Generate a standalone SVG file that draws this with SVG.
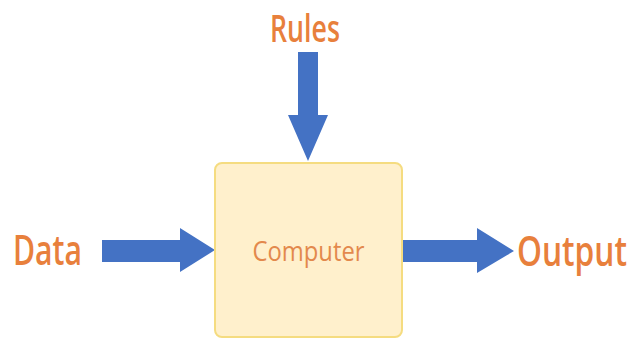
<svg xmlns="http://www.w3.org/2000/svg" width="635" height="340" viewBox="0 0 635 340">
  <style>
    .lbl { font-family: "Open Sans", "Liberation Sans", sans-serif; font-weight: 600; fill: #E8803C; }
    .arrow { fill: #4472C4; }
    .box { fill: #FFF0CC; stroke: #F5DC80; stroke-width: 2; }
  </style>
  <rect width="635" height="340" fill="#FFFFFF"/>

  <!-- block arrows -->
  <g id="connectors">
    <!-- Rules -> Computer -->
    <polygon class="arrow" points="298,52 318,52 318,115 328,115 308,161 288,115 298,115"/>
    <!-- Data -> Computer -->
    <polygon class="arrow" points="102,240 180,240 180,228 215,250 180,272 180,262 102,262"/>
    <!-- Computer -> Output -->
    <polygon class="arrow" points="403,240 477,240 477,228 514,251 477,273 477,262 403,262"/>
  </g>

  <g id="computer">
    <rect class="box" x="215" y="163" width="187" height="174" rx="7"/>
    <text class="lbl" x="308.5" y="261" text-anchor="middle" textLength="112" lengthAdjust="spacingAndGlyphs" style="fill:#E3894C;font-weight:400;font-size:28px">Computer</text>
  </g>

  <g id="rules">
    <text class="lbl" x="270" y="42" textLength="70" lengthAdjust="spacingAndGlyphs" style="font-size:38px">Rules</text>
  </g>

  <g id="data">
    <text class="lbl" x="13" y="265" textLength="69" lengthAdjust="spacingAndGlyphs" style="font-size:42px">Data</text>
  </g>

  <!-- tall, narrow label: smaller size stretched vertically -->
  <g id="output" transform="translate(517,266) scale(1,1.24)">
    <text class="lbl" x="0" y="0" textLength="110" lengthAdjust="spacingAndGlyphs" style="font-size:33px">Output</text>
  </g>
</svg>
